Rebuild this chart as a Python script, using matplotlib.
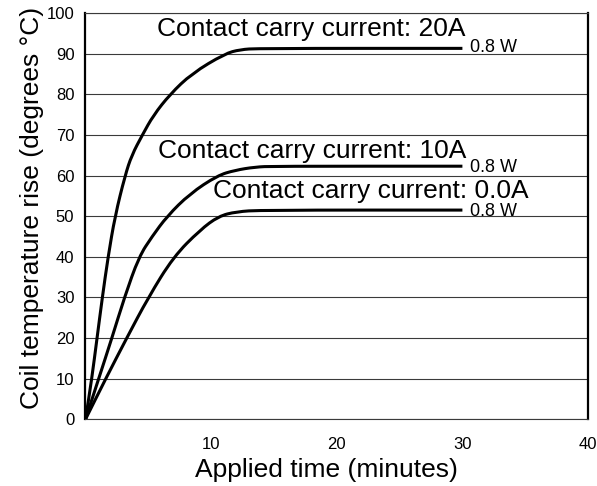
import matplotlib
matplotlib.use("Agg")
import matplotlib.pyplot as plt
from matplotlib.path import Path
from matplotlib.patches import PathPatch

plt.rcParams['font.family'] = ['Liberation Sans', 'DejaVu Sans']

# values
time_20a = [0, 0.5, 0.92, 1.34, 1.8, 2.35, 3.15, 3.68, 4.53, 5.4, 6.73, 8.46, 11.1, 12.3, 13.75, 30]
temp_20a = [0, 10, 20, 30, 40, 50, 60, 65, 70, 74.8, 80, 85.1, 90, 91.0, 91.3, 91.3]

time_10a = [0, 1.05, 2.1, 3.1, 4.25, 5.3, 6.5, 8.3, 10.5, 11.9, 13.5, 15.0, 30]
temp_10a = [0, 10, 20, 30, 40, 45, 50, 55.5, 60, 61.3, 62.1, 62.3, 62.3]

time_0a = [0, 1.61, 3.28, 5.0, 7.0, 9.12, 10.6, 12.0, 14.0, 30]
temp_0a = [0, 10, 20, 30, 40, 46.6, 50, 51.1, 51.5, 51.5]

labels = ["Contact carry current: 20A", "Contact carry current: 10A", "Contact carry current: 0.0A"]
power_label = "0.8 W"
x_ticks = [10, 20, 30, 40]
y_ticks = [0, 10, 20, 30, 40, 50, 60, 70, 80, 90, 100]


def smooth_curve(ax, xs, ys):
    # chain of quadratic beziers through the midpoints of the read points
    pts = list(zip(xs, ys))
    verts = [pts[0], ((pts[0][0] + pts[1][0]) / 2, (pts[0][1] + pts[1][1]) / 2)]
    codes = [Path.MOVETO, Path.LINETO]
    for i in range(1, len(pts) - 1):
        mid = ((pts[i][0] + pts[i + 1][0]) / 2, (pts[i][1] + pts[i + 1][1]) / 2)
        verts += [pts[i], mid]
        codes += [Path.CURVE3, Path.CURVE3]
    verts.append(pts[-1])
    codes.append(Path.LINETO)
    ax.add_patch(PathPatch(Path(verts, codes), fill=False, edgecolor='black',
                           lw=2.2, capstyle='butt', zorder=3))


fig = plt.figure(figsize=(5.97, 4.86), dpi=100)
ax = fig.add_axes([0.1432, 0.1372, 0.8418, 0.836])

for y in y_ticks:
    ax.axhline(y, color='#3a3a3a', lw=0.8, zorder=1)

for t, v in [(time_20a, temp_20a), (time_10a, temp_10a), (time_0a, temp_0a)]:
    smooth_curve(ax, t, v)

# curve labels
ax.text(30.24, 94.3, labels[0], fontsize=19, ha='right', va='baseline')
ax.text(30.3, 64.3, labels[1], fontsize=19, ha='right', va='baseline')
ax.text(35.3, 54.5, labels[2], fontsize=19, ha='right', va='baseline')
for yb in [90.4, 60.9, 50.0]:
    ax.text(30.64, yb, power_label, fontsize=13, ha='left', va='baseline')

ax.set_xlim(0, 40)
ax.set_ylim(0, 100)
ax.set_xticks(x_ticks)
ax.set_yticks(y_ticks)
ax.tick_params(axis='both', length=0, labelsize=12)
ax.tick_params(axis='x', pad=13)
ax.tick_params(axis='y', pad=8)

for s in ['left', 'right']:
    ax.spines[s].set_linewidth(1.6)
    ax.spines[s].set_color('black')
for s in ['top', 'bottom']:
    ax.spines[s].set_linewidth(0.8)
    ax.spines[s].set_color('#3a3a3a')

ax.set_xlabel("Applied time (minutes)", fontsize=19)
ax.set_ylabel("Coil temperature rise (degrees °C)", fontsize=19)
ax.xaxis.set_label_coords(0.48, -0.095)
ax.yaxis.set_label_coords(-0.083, 0.52)

fig.savefig("out.png", dpi=100)
